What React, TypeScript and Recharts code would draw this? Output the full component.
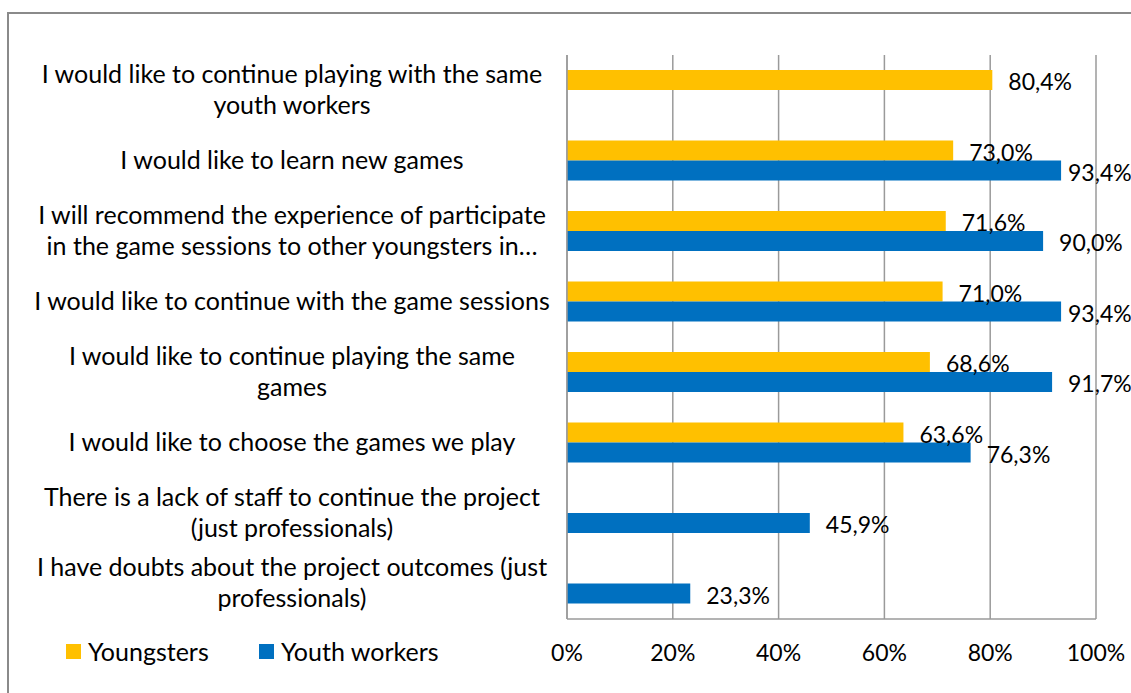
import React from "react";
import {
  Bar,
  BarChart,
  CartesianGrid,
  LabelList,
  XAxis,
  YAxis,
} from "recharts";

// Statements (top to bottom), lines split as in the source chart
const categories = [
  "I would like to continue playing with the same|youth workers",
  "I would like to learn new games",
  "I will recommend the experience of participate|in the game sessions to other youngsters in…",
  "I would like to continue with the game sessions",
  "I would like to continue playing the same|games",
  "I would like to choose the games we play",
  "There is a lack of staff to continue the project|(just professionals)",
  "I have doubts about the project outcomes (just|professionals)",
];

const youngsters = [80.4, 73.0, 71.6, 71.0, 68.6, 63.6, null, null];
const youthWorkers = [null, 93.4, 90.0, 93.4, 91.7, 76.3, 45.9, 23.3];

const xTicks = [0, 20, 40, 60, 80, 100];

const COLORS = {
  youngsters: "#FFC000",
  workers: "#0070C0",
  grid: "#9a9a9a",
  text: "#000000",
};

const FONT = "Lato, 'Noto Sans', sans-serif";
const CAT_FS = 25;
const VAL_FS = 23;

const rows = categories.map((name, i) => ({
  name,
  Youngsters: youngsters[i],
  "Youth workers": youthWorkers[i],
}));

function CategoryTick(props: any) {
  const { y, payload } = props;
  const lines: string[] = String(payload.value).split("|");
  const lh = 31;
  const start = y - 2 - ((lines.length - 1) * lh) / 2;
  return (
    <g>
      {lines.map((ln, i) => (
        <text
          key={i}
          x={292}
          y={start + i * lh}
          textAnchor="middle"
          dominantBaseline="central"
          fontFamily={FONT}
          fontSize={CAT_FS}
          fill={COLORS.text}
        >
          {ln}
        </text>
      ))}
    </g>
  );
}

function ValueLabel(props: any) {
  const { x, y, width, height, value } = props;
  if (value == null) return null;
  const lx = Math.min(Number(x) + Number(width) + 16, 1068);
  return (
    <text
      x={lx}
      y={Number(y) + Number(height) / 2 + 1}
      dominantBaseline="central"
      fontFamily={FONT}
      fontSize={VAL_FS}
      fill={COLORS.text}
    >
      {Number(value).toFixed(1).replace(".", ",")}%
    </text>
  );
}

function LegendBox() {
  const items = [
    { label: "Youngsters", color: COLORS.youngsters, left: 66 },
    { label: "Youth workers", color: COLORS.workers, left: 259 },
  ];
  return (
    <>
      {items.map((it) => (
        <div
          key={it.label}
          style={{
            position: "absolute",
            left: it.left,
            top: 636,
            height: 30,
            display: "flex",
            alignItems: "center",
            fontFamily: FONT,
            fontSize: CAT_FS,
            color: COLORS.text,
            whiteSpace: "nowrap",
          }}
        >
          <span
            style={{
              display: "inline-block",
              width: 15,
              height: 15,
              background: it.color,
              marginRight: 7,
            }}
          />
          {it.label}
        </div>
      ))}
    </>
  );
}

export default function App() {
  return (
    <div
      style={{
        position: "absolute",
        left: 0,
        top: 0,
        width: 1131,
        height: 693,
        overflow: "hidden",
        background: "#fff",
      }}
    >
      <div
        style={{
          position: "absolute",
          left: 7,
          top: 12,
          width: 1200,
          height: 800,
          border: "2px solid #8a8a8a",
          boxSizing: "border-box",
        }}
      />
      <div style={{ position: "absolute", left: 0, top: 0 }}>
        <BarChart
          width={1131}
          height={693}
          data={rows}
          layout="vertical"
          margin={{ top: 55, right: 35, bottom: 34, left: 0 }}
          barSize={20}
          barGap={0}
        >
          <CartesianGrid horizontal={false} stroke={COLORS.grid} strokeWidth={1.5} />
          <XAxis
            type="number"
            domain={[0, 100]}
            ticks={xTicks}
            tickFormatter={(v) => `${v}%`}
            height={40}
            tickLine={false}
            tickMargin={20}
            axisLine={{ stroke: COLORS.grid, strokeWidth: 1.5 }}
            tick={{ fontFamily: FONT, fontSize: VAL_FS, fill: COLORS.text }}
            interval={0}
          />
          <YAxis
            type="category"
            dataKey="name"
            width={567}
            tickLine={false}
            axisLine={{ stroke: COLORS.grid, strokeWidth: 1.5 }}
            tick={<CategoryTick />}
            interval={0}
          />
          <Bar dataKey="Youngsters" fill={COLORS.youngsters} isAnimationActive={false}>
            <LabelList dataKey="Youngsters" content={<ValueLabel />} />
          </Bar>
          <Bar dataKey="Youth workers" fill={COLORS.workers} isAnimationActive={false}>
            <LabelList dataKey="Youth workers" content={<ValueLabel />} />
          </Bar>
        </BarChart>
      </div>
      <LegendBox />
    </div>
  );
}
